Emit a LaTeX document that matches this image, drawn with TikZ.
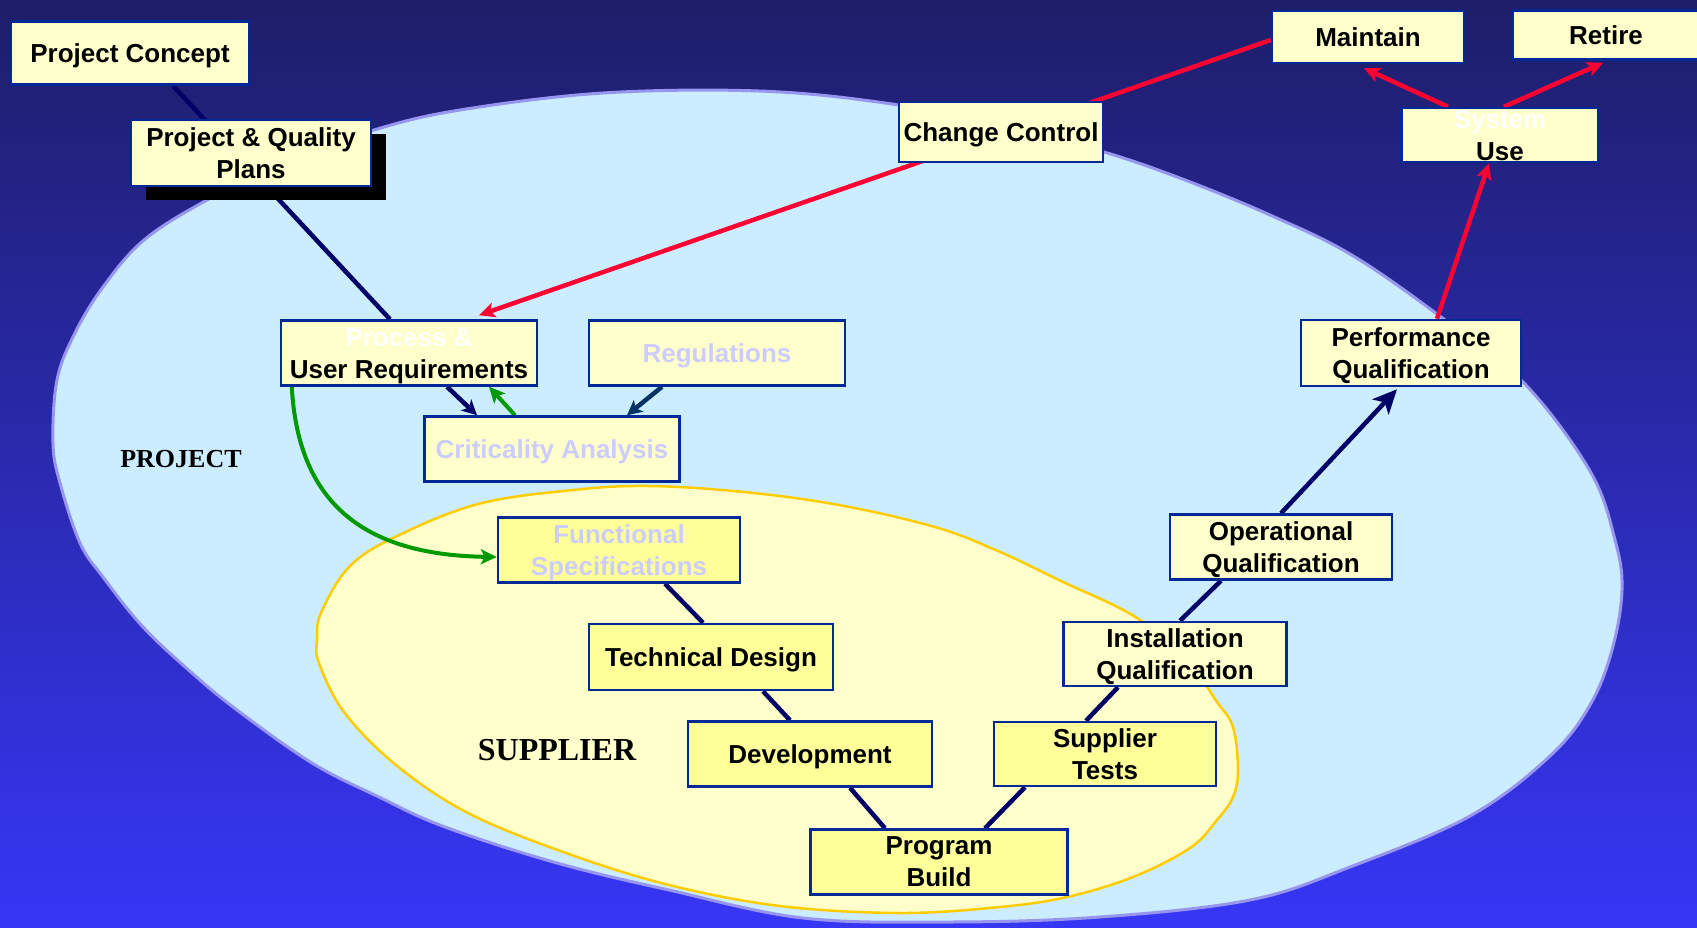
\documentclass[tikz,border=0pt]{standalone}
\usepackage{fontspec}
\setmainfont{Liberation Sans}
\newfontfamily\serifbf{Liberation Serif}
\usetikzlibrary{arrows.meta,calc,shadows}
\pgfdeclarelayer{bg}
\pgfdeclarelayer{lines}
\pgfsetlayers{bg,lines,main}
\definecolor{bgtop}{RGB}{30,30,105}
\definecolor{bgbot}{RGB}{54,54,246}
\definecolor{projfill}{RGB}{204,236,255}
\definecolor{projedge}{RGB}{150,150,240}
\definecolor{supfill}{RGB}{255,255,204}
\definecolor{supedge}{RGB}{255,204,0}
\definecolor{boxfill}{RGB}{255,255,204}
\definecolor{boxfillB}{RGB}{255,255,153}
\definecolor{boxedge}{RGB}{0,40,150}
\definecolor{navyln}{RGB}{0,0,102}
\definecolor{regln}{RGB}{0,51,102}
\definecolor{redln}{RGB}{255,0,51}
\definecolor{greenln}{RGB}{0,153,0}
\definecolor{lav}{RGB}{204,204,255}
\tikzset{
  box/.style={draw=boxedge, line width=2.5pt, fill=boxfill, inner sep=0pt, align=center,
    font=\bfseries\fontsize{26}{32}\selectfont, text=black, text depth=0pt},
  boxB/.style={box, fill=boxfillB},
  navyline/.style={draw=navyln, line width=4.5pt},
  navyarrow/.style={navyline, -{Stealth[length=15pt,width=15pt,inset=4pt]}},
  bignavyarrow/.style={navyline, -{Stealth[length=24pt,width=22pt,inset=6pt]}},
  regarrow/.style={draw=regln, line width=4.5pt, -{Stealth[length=15pt,width=15pt,inset=4pt]}},
  redline/.style={draw=redln, line width=4.5pt},
  redarrow/.style={redline, -{Stealth[length=16pt,width=15pt,inset=4pt]}},
  greenarrow/.style={draw=greenln, line width=4pt, -{Stealth[length=16pt,width=15pt,inset=4pt]}},
  zonelabel/.style={font=\serifbf\bfseries, text=black, inner sep=0pt}
}
\begin{document}
\begin{tikzpicture}[x=1pt,y=-1pt]
\useasboundingbox (0,0) rectangle (1697,927);
\begin{pgfonlayer}{bg}
\fill[top color=bgtop, bottom color=bgbot] (0,0) rectangle (1697,927);
\draw[projedge, line width=3pt, fill=projfill] plot[smooth cycle, tension=0.6] coordinates {
 (57,380) (75,333) (103,287) (144,240) (207,200) (285,162) (374,130) (460,110) (603,93)
 (759,91) (885,103) (1000,125) (1104,152) (1185,180) (1270,215) (1350,254) (1437,314)
 (1523,382) (1590,471) (1615,540) (1622,590) (1612,650) (1590,705) (1550,756) (1470,816)
 (1350,867) (1250,900) (1100,917) (950,922) (803,918) (669,890) (557,863) (445,827)
 (379,797) (312,763) (237,710) (192,673) (143,627) (103,577) (80,543) (60,483) (53,443)};
\draw[supedge, line width=2.5pt, fill=supfill] plot[smooth cycle, tension=0.6] coordinates {
 (317,640) (321,613) (349,567) (395,537) (478,504) (573,490) (649,486) (744,492) (839,505)
 (935,527) (998,551) (1061,581) (1137,618) (1190,665) (1217,702) (1233,727) (1238,770)
 (1233,797) (1217,820) (1190,848) (1133,877) (1067,897) (1000,907) (900,913) (780,906)
 (669,885) (566,853) (468,813) (396,765) (344,712) (319,663)};
\end{pgfonlayer}

\node[zonelabel, font=\serifbf\bfseries\fontsize{26}{26}\selectfont] (projlabel) at (181,459) {PROJECT};
\node[zonelabel, font=\serifbf\bfseries\fontsize{32}{32}\selectfont] (suplabel) at (557,750) {SUPPLIER};

\node[box, minimum width=238pt, minimum height=63pt] (concept) at (130,53) {Project Concept};
\node[box, minimum width=240pt, minimum height=66pt,
  drop shadow={shadow xshift=15pt, shadow yshift=-14pt, fill=black, opacity=1}] (plans) at (251,153) {Project \& Quality\\Plans};
\node[box, minimum width=204pt, minimum height=60pt] (cc) at (1001,132) {Change Control};
\node[box, minimum width=192pt, minimum height=52pt] (maint) at (1368,37) {Maintain};
\node[box, minimum width=186pt, minimum height=49pt] (retire) at (1606,35) {Retire};
\node[box, minimum width=197pt, minimum height=54pt] (sys) at (1500,135) {\textcolor{white}{System}\\Use};
\node[box, minimum width=256pt, minimum height=65pt] (process) at (409,353) {\textcolor{white}{Process \&}\\User Requirements};
\node[box, text=lav, minimum width=256pt, minimum height=65pt] (reg) at (717,353) {Regulations};
\node[box, text=lav, minimum width=255pt, minimum height=65pt] (crit) at (552,449) {Criticality Analysis};
\node[box, minimum width=220pt, minimum height=66pt] (perf) at (1411,353) {Performance\\Qualification};
\node[boxB, text=lav, minimum width=242pt, minimum height=65pt] (func) at (619,550) {Functional\\Specifications};
\node[boxB, minimum width=244pt, minimum height=66pt] (tech) at (711,657) {Technical Design};
\node[boxB, minimum width=244pt, minimum height=65pt] (dev) at (810,754) {Development};
\node[boxB, minimum width=257pt, minimum height=65pt] (build) at (939,862) {Program\\Build};
\node[boxB, minimum width=222pt, minimum height=64pt] (sup) at (1105,754) {Supplier\\Tests};
\node[box, minimum width=223pt, minimum height=64pt] (inst) at (1175,654) {Installation\\Qualification};
\node[box, minimum width=222pt, minimum height=65pt] (oper) at (1281,547) {Operational\\Qualification};

\begin{pgfonlayer}{lines}
\draw[navyline] ($(concept.south)+(43,0)$) -- ($(process.north)+(-19,0)$);
\draw[navyarrow] ($(process.south)+(38,0)$) -- ($(crit.north)+(-75,0)$);
\draw[greenarrow] ($(crit.north)+(-37,0)$) -- ($(process.south)+(80,0)$);
\draw[regarrow] ($(reg.south)+(-55,0)$) -- ($(crit.north)+(75,0)$);
\draw[greenarrow] ($(process.south west)+(12,0)$) .. controls (298,500) and (360,555) .. ($(func.west)+(0,7)$);
\draw[navyline] ($(func.south)+(46,0)$) -- ($(tech.north)+(-8,0)$);
\draw[navyline] ($(tech.south)+(52,0)$) -- ($(dev.north)+(-20,0)$);
\draw[navyline] ($(dev.south)+(40,0)$) -- ($(build.north)+(-54,0)$);
\draw[navyline] ($(build.north)+(46,0)$) -- ($(sup.south)+(-80,0)$);
\draw[navyline] ($(sup.north)+(-19,0)$) -- ($(inst.south)+(-57,0)$);
\draw[navyline] ($(inst.north)+(5,0)$) -- ($(oper.south)+(-60,0)$);
\draw[bignavyarrow] (oper.north) -- ($(perf.south)+(-14,2)$);
\draw[redarrow] ($(perf.north)+(26,0)$) -- ($(sys.south)+(-11,0)$);
\draw[redarrow] ($(sys.north)+(-52,0)$) -- ($(maint.south)+(-4,4)$);
\draw[redarrow] ($(sys.north)+(4,0)$) -- ($(retire.south)+(-3,2)$);
\draw[redarrow] ($(maint.west)+(0,3)$) -- ($(process.north)+(70,-4)$);
\end{pgfonlayer}
\end{tikzpicture}
\end{document}
